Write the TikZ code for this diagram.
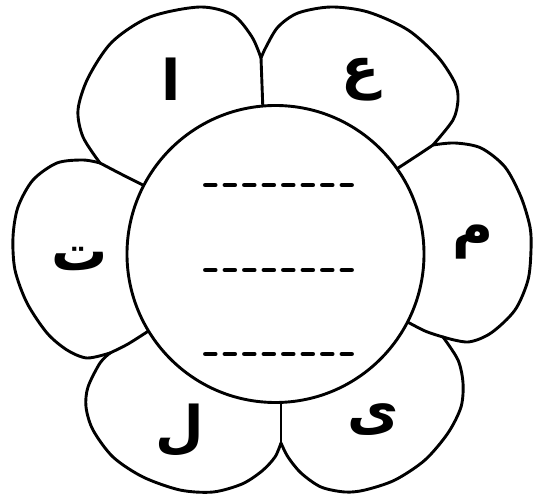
\documentclass[tikz,border=0pt]{standalone}
\usepackage{fontspec}
\newfontfamily\arabicfont[Script=Arabic]{DejaVu Sans}
\TeXXeTstate=1
\tikzset{
  outline/.style={draw=black,line width=2.9pt,line join=round,line cap=round},
  letter/.style={font=\arabicfont\bfseries\fontsize{56}{62}\selectfont,inner sep=0pt},
  blankline/.style={draw=black,line width=4.3pt,line cap=round,
                    dash pattern=on 10.2pt off 9.3pt}
}

\begin{document}
\begin{tikzpicture}[x=1pt,y=-1pt,
  centre/.style={outline,circle,fill=white,inner sep=0pt,minimum size=297pt}
]
  \useasboundingbox (0,0) rectangle (538,494);
  % where two petals meet
  \coordinate (jtl) at (261,58);
  \coordinate (jtr) at (433,145);
  \coordinate (jr) at (443,337);
  \coordinate (jb) at (281,443);
  \coordinate (jbl) at (110,353);
  \coordinate (jl) at (100,163);

  % petals
  \draw[outline] plot[smooth] coordinates {(jtl) (252,37) (233,15) (200,7) (150,17)
    (112,42) (88,78) (78,110) (83,137) (jl)};
  \draw[outline] plot[smooth] coordinates {(jtl) (266,47) (278,27) (298,13) (331,7)
    (368,12) (408,30) (438,57) (455,83) (458,100) (453,120) (jtr)};
  \draw[outline] plot[smooth] coordinates {(jtr) (455,143) (481,148) (505,167) (521,197)
    (530,227) (531,250) (528,280) (515,310) (491,333) (468,342) (jr)};
  \draw[outline] plot[smooth] coordinates {(jr) (458,360) (463,383) (461,407) (448,433)
    (425,460) (395,480) (365,490) (345,492) (321,487) (301,473) (288,457) (jb)};
  \draw[outline] plot[smooth] coordinates {(jb) (275,457) (262,471) (242,484) (213,492)
    (180,490) (143,477) (113,457) (93,430) (86,407) (88,387) (100,363) (jbl)};
  \draw[outline] plot[smooth] coordinates {(jl) (83,160) (57,163) (33,180) (18,207)
    (13,237) (15,270) (27,303) (47,333) (67,350) (87,358) (jbl)};
  \draw[outline] (jtl) -- (263,112);
  \draw[outline] plot[smooth] coordinates {(jl) (121,174) (147,187)};
  \draw[outline] plot[smooth] coordinates {(jbl) (128,344) (150,330)};
  \draw[outline] (jb) -- (281,398);
  \draw[outline] plot[smooth] coordinates {(jr) (425,331) (402,319)};
  \draw[outline] plot[smooth] coordinates {(jtr) (415,157) (392,172)};

  \node[centre] (heart) at (275.5,254) {};

  % blanks to fill in
  \foreach \y/\n in {185/a,270/b,354/c} {
    \coordinate (\n-start) at (205.2,\y);
    \coordinate (\n-end) at (351.8,\y);
    \draw[blankline] (\n-start) -- (\n-end);
  }

  \node[letter] (alef) at (171,79) {\beginR ا\endR};
  \node[letter] (ain) at (361,80) {\beginR ع\endR};
  \node[letter] (mim) at (473,242) {\beginR م\endR};
  \node[letter] (ya) at (373,420) {\beginR ى\endR};
  \node[letter] (lam) at (180,430) {\beginR ل\endR};
  \node[letter] (ta) at (80,259) {\beginR ت\endR};
\end{tikzpicture}
\end{document}
